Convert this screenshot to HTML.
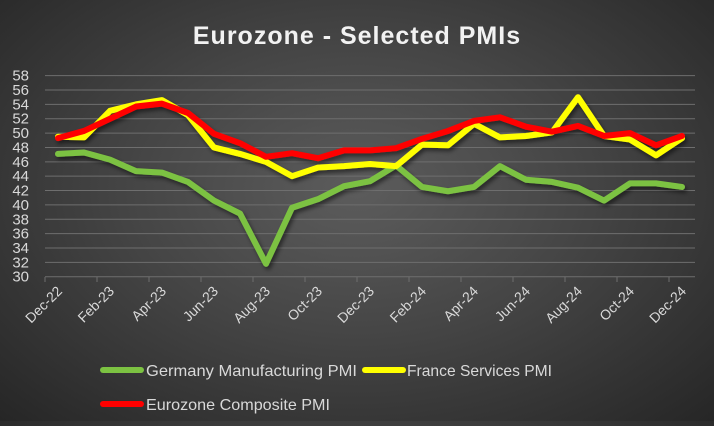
<!DOCTYPE html>
<html><head><meta charset="utf-8"><style>
html,body{margin:0;padding:0}
body{width:714px;height:421px;overflow:hidden;background:radial-gradient(ellipse at 50% 45%,#5c5c5c 0%,#454545 45%,#262626 100%);font-family:"Liberation Sans",sans-serif}
</style></head><body>
<svg width="714" height="421" xmlns="http://www.w3.org/2000/svg" font-family="Liberation Sans, sans-serif">
<defs><filter id="sh" x="-5%" y="-5%" width="110%" height="120%"><feDropShadow dx="2" dy="3" stdDeviation="2" flood-color="#000" flood-opacity="0.5"/></filter></defs>
<text x="357" y="44" text-anchor="middle" font-size="25" font-weight="bold" fill="#f2f2f2" letter-spacing="1">Eurozone - Selected PMIs</text>
<g id="grid" stroke="#6e6e6e" stroke-width="1"></g>
<g id="ylab" fill="#d9d9d9" font-size="15" text-anchor="end"></g>
<g id="xlab" fill="#d9d9d9" font-size="14" text-anchor="end"></g>
<g id="lines" fill="none" stroke-width="6" stroke-linejoin="round" stroke-linecap="round" filter="url(#sh)"></g>
<line x1="103" y1="370" x2="141" y2="370" stroke="#7cc242" stroke-width="6" stroke-linecap="round"/>
<text x="146" y="376" fill="#d9d9d9" font-size="16" textLength="211" lengthAdjust="spacingAndGlyphs">Germany Manufacturing PMI</text>
<line x1="365" y1="370" x2="403" y2="370" stroke="#ffff00" stroke-width="6" stroke-linecap="round"/>
<text x="407" y="376" fill="#d9d9d9" font-size="16" textLength="145" lengthAdjust="spacingAndGlyphs">France Services PMI</text>
<line x1="103" y1="404" x2="141" y2="404" stroke="#ff0000" stroke-width="6" stroke-linecap="round"/>
<text x="146" y="410" fill="#d9d9d9" font-size="16" textLength="184" lengthAdjust="spacingAndGlyphs">Eurozone Composite PMI</text>
</svg>
<script>
const ns="http://www.w3.org/2000/svg";
const Y=v=>276.7-(v-30)*7.18, X=i=>58+26*i;
const g=document.getElementById('grid'),yl=document.getElementById('ylab'),xl=document.getElementById('xlab'),L=document.getElementById('lines');
function el(t,a,p,txt){const e=document.createElementNS(ns,t);for(const k in a)e.setAttribute(k,a[k]);if(txt)e.textContent=txt;p.appendChild(e);return e;}
for(let v=30;v<=58;v+=2){el('line',{x1:45,x2:695,y1:Y(v),y2:Y(v)},g);el('text',{x:29,y:Y(v)+5},yl,v);}
for(let i=0;i<=25;i+=2){el('line',{x1:45+26*i,x2:45+26*i,y1:277,y2:282},g);}
const labs=["Dec-22","Feb-23","Apr-23","Jun-23","Aug-23","Oct-23","Dec-23","Feb-24","Apr-24","Jun-24","Aug-24","Oct-24","Dec-24"];
labs.forEach((s,k)=>{const x=X(2*k)+5,y=292;el('text',{x:x,y:y,transform:`rotate(-45 ${x} ${y})`},xl,s);});
const G=[47.1,47.3,46.3,44.7,44.5,43.2,40.6,38.8,31.8,39.6,40.8,42.6,43.3,45.5,42.5,41.9,42.5,45.4,43.5,43.2,42.4,40.6,43.0,43.0,42.5];
const F=[49.5,49.4,53.1,54.0,54.6,52.5,48.0,47.1,46.0,44.0,45.2,45.4,45.7,45.4,48.4,48.3,51.3,49.4,49.6,50.1,55.0,49.6,49.1,46.9,49.3];
const E=[49.3,50.3,52.0,53.7,54.1,52.8,49.9,48.6,46.7,47.2,46.5,47.6,47.6,47.9,49.2,50.3,51.7,52.2,50.9,50.2,51.0,49.6,50.0,48.3,49.6];
[[G,"#7cc242"],[F,"#ffff00"],[E,"#ff0000"]].forEach(([d,c])=>el('polyline',{points:d.map((v,i)=>X(i)+","+Y(v)).join(" "),stroke:c},L));
</script>
</body></html>
